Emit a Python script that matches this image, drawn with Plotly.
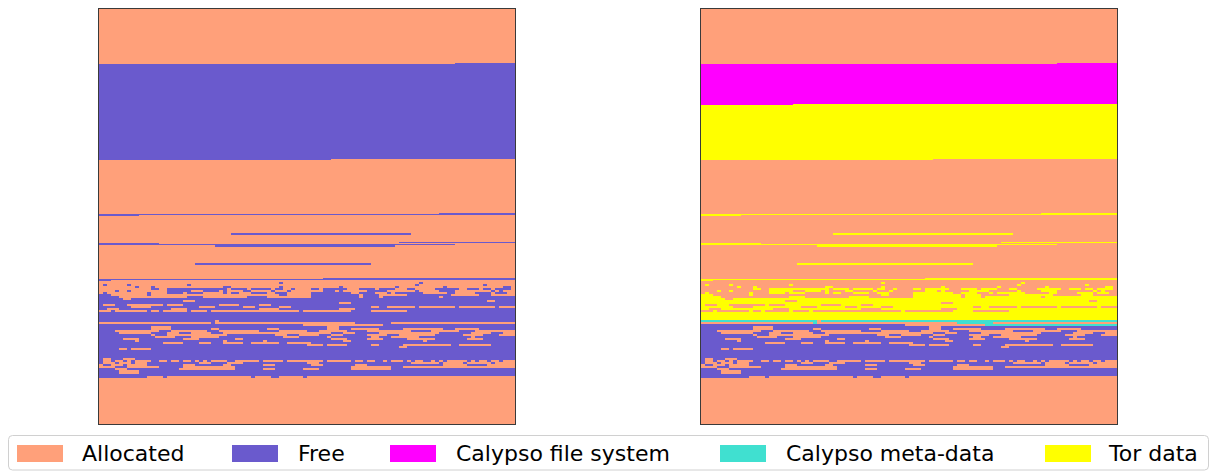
import numpy as np
import plotly.graph_objects as go

# ---------------------------------------------------------------------------
# Block map: ROWS x COLS blocks, addressed row-major (address = row*COLS + col)
# ---------------------------------------------------------------------------
ROWS, COLS = 415, 104

categories = ["Allocated", "Free", "Calypso file system", "Calypso meta-data", "Tor data"]
colors = ["#FFA07A", "#6A5ACD", "#FF00FF", "#40E0D0", "#FFFF00"]

# Contiguous free extents: (start_row, start_col, end_row, end_col), end exclusive
free_extents = [
    (54, 89, 150, 58),
    (204, 85, 206, 10),
    (224, 33, 224, 78),
    (225, 33, 225, 78),
    (233, 75, 234, 15),
    (235, 0, 235, 89),
    (236, 29, 236, 74),
    (237, 29, 237, 74),
    (254, 24, 254, 68),
    (255, 24, 255, 68),
    (269, 56, 271, 3),
]

# Fragmented area: one entry per pair of block rows, listing free column ranges
NOISE_TOP = 273
NOISE_SPAN = 2
noise_free = [
    "45 80",
    "1 7 22 79 96",
    "9 13 31-32 45 60 74 86 101-102",
    "13-14 17-30 31 33-36 38-42 44-45 48 53-54 56-61 65 66-68 70-72 73 77-78 84-89 92-94 96-97 99-102",
    "4 7 17-22 26-29 31 36-37 43 47 56-58 60 67-71 79 85-87 88 98 100",
    "1 12 17-20 22-25 31 33-34 38-41 44-46 53-62 65-68 72 74-79 80 87-88 94-97 99-101",
    "0-2 12 45-46 53-64 66-69 77-87 95-97",
    "0-4 22-25 37-41 53-56 57-64 66-69 71-84 86-103",
    "0-5 8-103",
    "0-20 24-96 99-103",
    "0-59 63-103",
    "0 4-6 16 21-29 35-39 43-103",
    "0-7 13-24 29-35 39-44 48-67 70-71 79 89 99",
    "0-1 5-17 22-39 45-59 64-103",
    "3 12 15 22 27 50 63-67 77-103",
    "0-103",
    "0-103",
    "0-103",
    "0-103",
    "0-28 30-103",
    "28 64-72",
    "0-50 71-103",
    "0-12 18-56 60-103",
    "0-12 18-27 30-33 34-41 45-56 60-62 70-75 86-88 95-103",
    "0-3 15-17 27-29 40-44 52-54 62-66 78-82 90-93",
    "0-4 13-16 20-22 28-30 58-60 64-69 85-92 98-100",
    "0-12 14-16 32-43 47-49 55-57 61-66 72-74 84-90 96-99",
    "0-13 19-22 30-45 50-56 58-67 70-72 80-92 94-103",
    "0-5 10-20 25-33 36-57 62-66 71-76 84-91 96-103",
    "0-8 10-30 32-40 42-60 63-80 82-103",
    "0-15 21-24 28-30 36-37 45-46 53-103",
    "0-51 56 62-67 70-75 88-89 98-103",
    "0-74 77-103",
    "0-4 7 13-103",
    "0-103",
    "0-103",
    "0-103",
    "0-103",
    "0 3-5 9-103",
    "0 3 6 8 13-14 17 20 23 25 27 32-33 40 46 56 63 66 69-70 72 76 78 81-82 84 86 92 94 97 100",
    "0 4 8 12-24 28-31 36-51 55-77 85 91 98",
    "1-2 6 12-20 24-30 33-40 44-52 56-63 67-78 79-85 92-96",
    "4-6 15-20 34-62 73-75",
    "0-3 7-19 34-40 44-50 55-62 73-103",
    "0-4 10-103",
    "0-4 10-103",
    "0-103",
    "0-11 16 38 43-44 51",
]

# Ownership of free blocks in the second map (address spans, end exclusive)
calypso_fs_spans = [(54, 89, 95, 23)]
tor_data_spans = [(95, 23, 311, 0)]
meta_data_spans = [(311, 0, 315, 0), (315, 71, 316, 0), (316, 71, 317, 0)]


def addr(r, c):
    return r * COLS + c


# ---------------------------------------------------------------------------
# Build the two maps
# ---------------------------------------------------------------------------
base = np.zeros(ROWS * COLS, dtype=int)  # 0 = Allocated
for r0, c0, r1, c1 in free_extents:
    base[addr(r0, c0):addr(r1, c1)] = 1

for i, spec in enumerate(noise_free):
    mask = np.zeros(COLS, dtype=bool)
    for tok in spec.split():
        if "-" in tok:
            lo, hi = map(int, tok.split("-"))
            mask[lo:hi + 1] = True
        else:
            mask[int(tok)] = True
    for k in range(NOISE_SPAN):
        row = NOISE_TOP + i * NOISE_SPAN + k
        line = base[addr(row, 0):addr(row + 1, 0)]
        line[:] = 0
        line[mask] = 1

labelled = base.copy()
for code, spans in ((2, calypso_fs_spans), (4, tor_data_spans), (3, meta_data_spans)):
    for r0, c0, r1, c1 in spans:
        a, b = addr(r0, c0), addr(r1, c1)
        seg = labelled[a:b]
        seg[base[a:b] == 1] = code

z_left = base.reshape(ROWS, COLS)
z_right = labelled.reshape(ROWS, COLS)

n = len(categories)
colorscale = []
for k, col in enumerate(colors):
    colorscale.append([k / n, col])
    colorscale.append([(k + 1) / n, col])

# ---------------------------------------------------------------------------
# Figure
# ---------------------------------------------------------------------------
W, H = 1210, 471
fig = go.Figure()

for z, xa, ya in ((z_left, "x", "y"), (z_right, "x2", "y2")):
    fig.add_trace(go.Heatmap(
        z=z, colorscale=colorscale, zmin=-0.5, zmax=n - 0.5,
        showscale=False, hoverinfo="skip", xaxis=xa, yaxis=ya,
    ))


def px_x(v):
    return v / W


def px_y(v):
    return 1 - v / H


axis_common = dict(showgrid=False, zeroline=False, showticklabels=False, ticks="",
                   showline=True, mirror=True, linecolor="#3a3a3a", linewidth=1)

fig.update_layout(
    width=W, height=H, autosize=False,
    margin=dict(l=0, r=0, t=0, b=0),
    paper_bgcolor="white", plot_bgcolor="white",
    showlegend=False,
    xaxis=dict(domain=[px_x(99), px_x(515)], range=[-0.5, COLS - 0.5], **axis_common),
    yaxis=dict(domain=[px_y(424), px_y(9)], range=[ROWS - 0.5, -0.5], **axis_common),
    xaxis2=dict(domain=[px_x(701), px_x(1117)], range=[-0.5, COLS - 0.5], anchor="y2", **axis_common),
    yaxis2=dict(domain=[px_y(424), px_y(9)], range=[ROWS - 0.5, -0.5], anchor="x2", **axis_common),
)

# Legend frame with rounded corners
x0, x1, y0, y1, rad = 8.5, 1208.5, 435.5, 470, 4
rx, ry = rad / W, rad / H
X0, X1, Y0, Y1 = px_x(x0), px_x(x1), px_y(y0), px_y(y1)
path = (f"M {X0 + rx},{Y0} L {X1 - rx},{Y0} Q {X1},{Y0} {X1},{Y0 - ry} "
        f"L {X1},{Y1 + ry} Q {X1},{Y1} {X1 - rx},{Y1} L {X0 + rx},{Y1} "
        f"Q {X0},{Y1} {X0},{Y1 + ry} L {X0},{Y0 - ry} Q {X0},{Y0} {X0 + rx},{Y0} Z")
shapes = [dict(type="path", xref="paper", yref="paper", path=path,
               line=dict(color="#d0d0d0", width=1), fillcolor="rgba(255,255,255,0.8)")]

patch_left = [17, 232, 390, 720, 1045]
text_left = [80, 296, 454, 784, 1106]
annotations = []
for name, col, pl, tl in zip(categories, colors, patch_left, text_left):
    shapes.append(dict(type="rect", xref="paper", yref="paper",
                       x0=px_x(pl), x1=px_x(pl + 46), y0=px_y(462), y1=px_y(445),
                       line=dict(width=0), fillcolor=col))
    annotations.append(dict(xref="paper", yref="paper", x=px_x(tl), y=px_y(453.5),
                            xanchor="left", yanchor="middle", showarrow=False,
                            text=name, font=dict(family="DejaVu Sans", size=22, color="black")))

fig.update_layout(shapes=shapes, annotations=annotations)

fig.write_html("out.html")
